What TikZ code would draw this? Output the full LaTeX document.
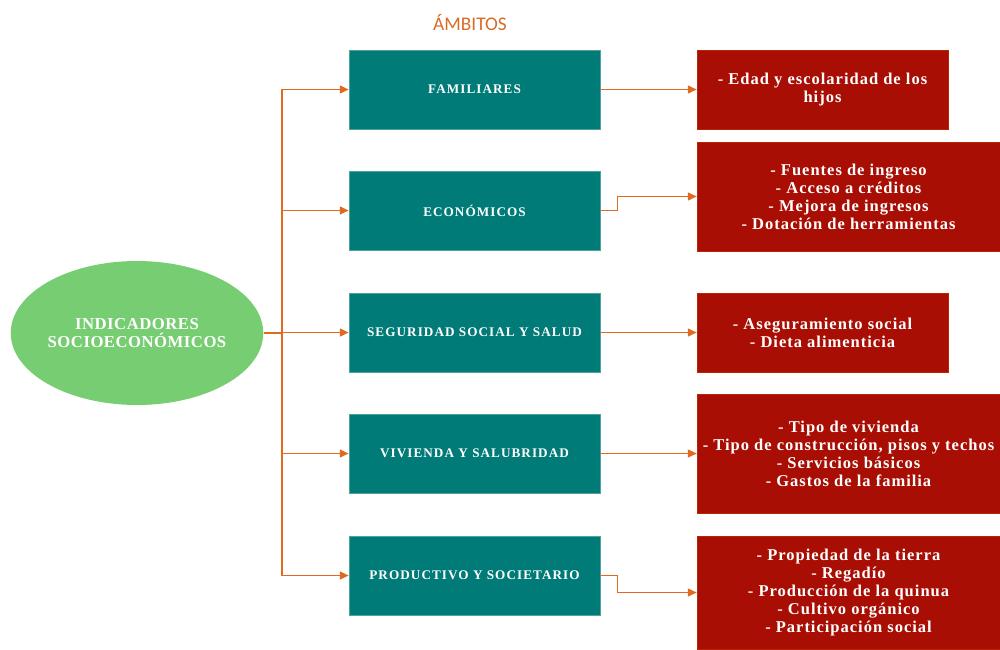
\documentclass[tikz,border=0pt]{standalone}
\usepackage{fontspec}
\setmainfont{Liberation Serif}
\newfontfamily\tealfont[LetterSpace=8]{Liberation Serif}
\newfontfamily\redfont[LetterSpace=6]{Liberation Serif}
\newfontfamily\ellfont[LetterSpace=3]{Liberation Serif}
\newfontfamily\headfont{Carlito}
\usetikzlibrary{arrows.meta,shapes.geometric}
\definecolor{tealbox}{RGB}{0,123,120}
\definecolor{redbox}{RGB}{168,14,4}
\definecolor{greenell}{RGB}{119,206,114}
\definecolor{arrowc}{RGB}{224,106,31}
\definecolor{headc}{RGB}{217,107,39}
\tikzset{
  tealnode/.style={fill=tealbox, draw=tealbox!70!white, line width=0.4pt, minimum width=5.02cm, minimum height=1.58cm, inner sep=0pt, text=white, font=\tealfont\bfseries\fontsize{7.5}{9}\selectfont, align=center},
  rednode/.style={fill=redbox, draw=redbox!80!orange, line width=0.4pt, inner sep=0pt, text=white, font=\redfont\bfseries\fontsize{9.4}{10.2}\selectfont, align=center},
  conn/.style={draw=arrowc, line width=0.8pt, -{Triangle[length=5pt,width=4.5pt]}},
}
\begin{document}
\begin{tikzpicture}[x=0.02cm, y=-0.02cm]
\useasboundingbox (0,0) rectangle (1000,649);
\node[font=\headfont\fontsize{11}{13}\selectfont, text=headc] (head) at (470,22) {ÁMBITOS};
\node[ellipse, fill=greenell, minimum width=5.04cm, minimum height=2.88cm, inner sep=0pt, text=white, font=\ellfont\bfseries\fontsize{9.5}{10.2}\selectfont, align=center] (ell) at (137,333) {INDICADORES\\SOCIOECONÓMICOS};
\node[tealnode] (t1) at (474.5,89.5) {FAMILIARES};
\node[tealnode] (t2) at (474.5,210.5) {ECONÓMICOS};
\node[tealnode] (t3) at (474.5,332.5) {SEGURIDAD SOCIAL Y SALUD};
\node[tealnode] (t4) at (474.5,453.5) {VIVIENDA Y SALUBRIDAD};
\node[tealnode] (t5) at (474.5,575.5) {PRODUCTIVO Y SOCIETARIO};
\node[rednode, minimum width=5.02cm, minimum height=1.58cm] (r1) at (822.5,89.5) {- Edad y escolaridad de los\\hijos};
\node[rednode, minimum width=6.06cm, minimum height=2.18cm] (r2) at (848.5,196.5) {- Fuentes de ingreso\\- Acceso a créditos\\- Mejora de ingresos\\- Dotación de herramientas};
\node[rednode, minimum width=5.02cm, minimum height=1.58cm] (r3) at (822.5,332.5) {- Aseguramiento social\\- Dieta alimenticia};
\node[rednode, minimum width=6.06cm, minimum height=2.38cm] (r4) at (848.5,453.5) {- Tipo de vivienda\\- Tipo de construcción, pisos y techos\\- Servicios básicos\\- Gastos de la familia};
\node[rednode, minimum width=6.06cm, minimum height=2.26cm] (r5) at (848.5,592.5) {- Propiedad de la tierra\\- Regadío\\- Producción de la quinua\\- Cultivo orgánico\\- Participación social};
\coordinate (trunk) at (282,333);
\foreach \t in {t1,t2,t3,t4,t5}{
  \draw[conn] (ell.east) -- (trunk) |- (\t.west);
}
\draw[conn] (t1.east) -- (r1.west);
\draw[conn] (t2.east) -- ++(17,0) |- (r2.west);
\draw[conn] (t3.east) -- (r3.west);
\draw[conn] (t4.east) -- (r4.west);
\draw[conn] (t5.east) -- ++(17,0) |- (r5.west);
\end{tikzpicture}
\end{document}
